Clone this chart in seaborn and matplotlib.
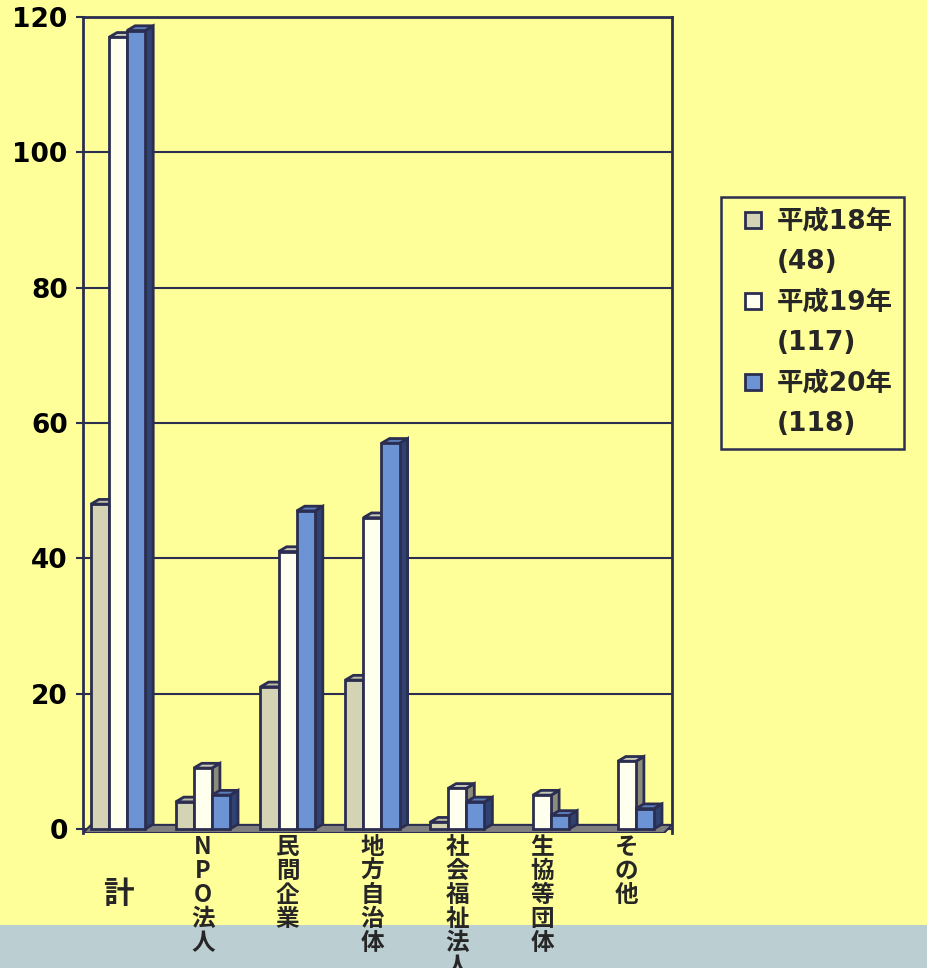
import numpy as np
import pandas as pd
import matplotlib
matplotlib.use("Agg")
import matplotlib.pyplot as plt
import seaborn as sns
from matplotlib.patches import Polygon, Rectangle
from matplotlib.lines import Line2D

# data
categories = ["計", "NPO法人", "民間企業", "地方自治体", "社会福祉法人", "生協等団体", "その他"]
years = ["平成18年", "平成19年", "平成20年"]
totals = ["(48)", "(117)", "(118)"]
h18 = [48, 4, 21, 22, 1, 0, 0]
h19 = [117, 9, 41, 46, 6, 5, 10]
h20 = [118, 5, 47, 57, 4, 2, 3]
yticks = [0, 20, 40, 60, 80, 100, 120]

# colours
front = ["#D4D3B3", "#FFFFEE", "#6C93D3"]
side = ["#8C8C7A", "#8C8C7A", "#2F4272"]
top = ["#BDBDA8", "#C9C9BA", "#5B7DBA"]
edge = "#2B2E50"
bg = "#FFFF99"
band = "#BBCFD2"

df = pd.DataFrame({
    "cat": categories * 3,
    "year": np.repeat(years, len(categories)),
    "val": h18 + h19 + h20,
})

sns.set_theme(style="white")
plt.rcParams["font.family"] = ["Noto Sans CJK JP", "DejaVu Sans"]

fig = plt.figure(figsize=(9.28, 9.68), dpi=100, facecolor=bg)
fig.patches.append(Rectangle((0, 0), 1, 43 / 968, transform=fig.transFigure,
                             facecolor=band, edgecolor="none", zorder=-1))
ax = fig.add_axes([83 / 928, 135 / 968, 589 / 928, 816 / 968])
ax.set_facecolor(bg)

sns.barplot(data=df, x="cat", y="val", hue="year", palette=front, width=0.64,
            saturation=1, edgecolor=edge, linewidth=2, legend=False, ax=ax)

# fake 3D depth for each bar
dx, dy = 0.095, 0.7
for k, cont in enumerate(ax.containers):
    for rect in cont.patches:
        x0, w, h = rect.get_x(), rect.get_width(), rect.get_height()
        rect.set_zorder(3 + k)
        if h <= 0:
            rect.set_visible(False)
            continue
        ax.add_patch(Polygon([(x0 + w, 0), (x0 + w + dx, dy), (x0 + w + dx, h + dy), (x0 + w, h)],
                             closed=True, facecolor=side[k], edgecolor=edge, lw=2, zorder=2.5 + k))
        ax.add_patch(Polygon([(x0, h), (x0 + dx, h + dy), (x0 + w + dx, h + dy), (x0 + w, h)],
                             closed=True, facecolor=top[k], edgecolor=edge, lw=2, zorder=2.5 + k))

xmin, xmax = -0.413, 6.533
# floor
ax.add_patch(Polygon([(xmin, -0.6), (xmax - dx, -0.6), (xmax, 0.6), (xmin + dx, 0.6)],
                     closed=True, facecolor="#7F7F7F", edgecolor=edge, lw=1.5, zorder=2))

ax.set_xlim(xmin, xmax)
ax.set_ylim(-0.6, 120)
ax.set_yticks(yticks)
ax.set_yticklabels([str(v) for v in yticks], fontsize=19, fontweight="bold",
                   family="DejaVu Sans", color="black")
ax.set_xticks(range(len(categories)))
ax.set_xticklabels([])
ax.tick_params(axis="x", length=0)
ax.tick_params(axis="y", length=5, width=1.5, color=edge, pad=6, left=True)
ax.set_xlabel("")
ax.set_ylabel("")
ax.yaxis.grid(True, color=edge, lw=1.5)
ax.set_axisbelow(True)
for s in ["left", "top", "right"]:
    ax.spines[s].set_color(edge)
    ax.spines[s].set_linewidth(2)
ax.spines["bottom"].set_visible(False)

# category labels, stacked vertically
fam = ["Noto Sans CJK JP", "DejaVu Sans"]
tr = matplotlib.transforms.blended_transform_factory(ax.transData, fig.transFigure)
for i, cat in enumerate(categories):
    if len(cat) == 1:
        ax.text(i, (968 - 894) / 968, cat, transform=tr, ha="center", va="center",
                family=fam, fontweight="bold", fontsize=22, zorder=10)
    else:
        ax.text(i, (968 - 835) / 968, "\n".join(cat), transform=tr, ha="center",
                va="top", linespacing=1.0, clip_on=False, zorder=10,
                family=fam, fontweight="bold", fontsize=17)

# legend: one line per entry so squares sit on the first line
handles, labels = [], []
for k in range(3):
    handles.append(Line2D([], [], ls="none", marker="s", markersize=11,
                          markerfacecolor=front[k], markeredgecolor=edge, markeredgewidth=2))
    labels.append(years[k])
    handles.append(Line2D([], [], ls="none", marker=None))
    labels.append(totals[k])
leg = fig.legend(handles, labels, loc="upper left",
                 bbox_to_anchor=(721 / 928, (968 - 197) / 968), bbox_transform=fig.transFigure,
                 frameon=True, fancybox=False, edgecolor=edge, facecolor=bg, framealpha=1,
                 prop={"family": ["DejaVu Sans", "Noto Sans CJK JP"], "weight": "bold", "size": 19},
                 labelspacing=0.55, handlelength=1.5, handletextpad=0.15,
                 borderpad=0.45, borderaxespad=0)
leg.get_frame().set_linewidth(1.8)

fig.savefig("out.png", dpi=100, facecolor=bg)
